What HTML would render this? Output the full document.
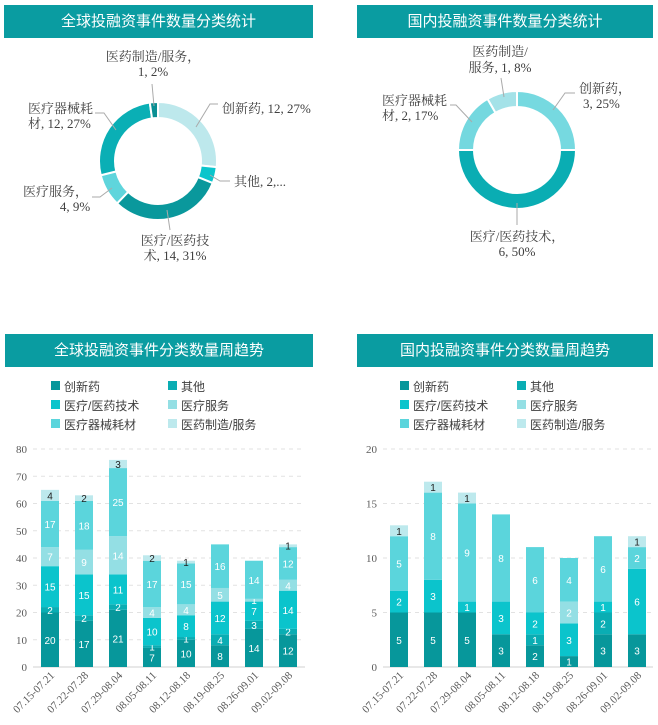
<!DOCTYPE html>
<html><head><meta charset="utf-8">
<style>
body{margin:0;background:#fff;width:658px;height:725px;overflow:hidden;font-family:"Liberation Sans","Noto Sans CJK SC",sans-serif}
.h{position:absolute;background:#0a9ca1;color:#fff;font-size:15px;text-align:center;line-height:33px;height:33px}
svg{position:absolute;left:0;top:0}
</style></head><body>
<div class="h" style="left:4px;top:5px;width:309px">全球投融资事件数量分类统计</div>
<div class="h" style="left:357px;top:5px;width:296px">国内投融资事件数量分类统计</div>
<div class="h" style="left:5px;top:334px;width:308px">全球投融资事件分类数量周趋势</div>
<div class="h" style="left:357px;top:334px;width:296px">国内投融资事件分类数量周趋势</div>
<svg id="s" width="658" height="725" xmlns="http://www.w3.org/2000/svg" font-family="Liberation Sans, Noto Sans CJK SC, sans-serif"></svg>
<script>
var s=document.getElementById('s'),o='';
var SERIF='Liberation Serif, Noto Serif CJK SC, Noto Sans CJK SC, serif';
function arc(cx,cy,r1,r2,a0,a1,c){var p=Math.PI/180;a0=(a0-90)*p;a1=(a1-90)*p;var L=(a1-a0)>Math.PI?1:0;
function pt(r,a){return (cx+r*Math.cos(a)).toFixed(2)+','+(cy+r*Math.sin(a)).toFixed(2)}
o+='<path d="M'+pt(r2,a0)+'A'+r2+','+r2+' 0 '+L+' 1 '+pt(r2,a1)+'L'+pt(r1,a1)+'A'+r1+','+r1+' 0 '+L+' 0 '+pt(r1,a0)+'Z" fill="'+c+'" stroke="#fff" stroke-width="2"/>';}
function donut(cx,cy,d){var t=0,T=0;d.forEach(function(x){T+=x[0]});d.forEach(function(x){var a=t/T*360;t+=x[0];arc(cx,cy,43,59,a,t/T*360,x[1])});}
donut(158,161,[[12,'#bde8ec'],[2,'#0bc5cc'],[14,'#0a989c'],[4,'#5fd5dc'],[12,'#0aafb5'],[1,'#0a8f93']]);
donut(517,150,[[3,'#76d9e0'],[6,'#0aadb3'],[2,'#74d8df'],[1,'#a4e2e8']]);
function t(x,y,s,a,c,fs,ff){o+='<text x="'+x+'" y="'+y+'" font-size="'+(fs||12)+'" fill="'+(c||'#404040')+'" text-anchor="'+(a||'start')+'"'+(ff?' font-family="'+ff+'"':'')+'>'+s+'</text>';}
function d(x,y,s,a){t(x,y,s,a,'#404040',13,SERIF);}
function ln(p){o+='<polyline points="'+p+'" fill="none" stroke="#aaa" stroke-width="1"/>';}
d(153,61,'医药制造/服务，','middle');d(153,76,'1, 2%','middle');ln('152,84 154,106');
d(222,113,'创新药, 12, 27%');ln('218,104 210,104 196,127');
d(234,186,'其他, 2,...');ln('230,181 220,181 210,175');
d(175,245,'医疗/医药技','middle');d(175,260,'术, 14, 31%','middle');ln('170,230 167,210');
d(88,196,'医疗服务，','end');d(75,211,'4, 9%','middle');ln('92,197 100,197 112,188');
d(28,113,'医疗器械耗');d(28,128,'材, 12, 27%');ln('95,113 104,113 116,130');
d(500,56,'医药制造/','middle');d(500,72,'服务, 1, 8%','middle');ln('501,78 504,97');
d(579,93,'创新药，');d(583,108,'3, 25%');ln('575,93 565,93 553,110');
d(382,105,'医疗器械耗');d(382,120,'材, 2, 17%');ln('450,105 456,105 472,122');
d(517,241,'医疗/医药技术，','middle');d(517,256,'6, 50%','middle');ln('517,225 517,203');
var cols=['#07979b','#0aadb3','#0bc4cc','#94dfe4','#5bd5dc','#bde9ed'];
var names=['创新药','其他','医疗/医药技术','医疗服务','医疗器械耗材','医药制造/服务'];
var labs=['07.15-07.21','07.22-07.28','07.29-08.04','08.05-08.11','08.12-08.18','08.19-08.25','08.26-09.01','09.02-09.08'];
function chart(x0,c0,x1,step,max,ystep,data,lx){
 var y0=667,h=218;
 for(var i=0;i<=max;i+=ystep){var y=y0-i/max*h;
  if(i>0)o+='<line x1="'+x0+'" x2="'+x1+'" y1="'+y+'" y2="'+y+'" stroke="#e2e2e2" stroke-dasharray="4,4"/>';
  t(x0-6,y+4,i,'end','#595959',11,SERIF);}
 o+='<line x1="'+x0+'" x2="'+x1+'" y1="'+y0+'" y2="'+y0+'" stroke="#d0d0d0"/>';
 data.forEach(function(d,k){var cx=c0+k*step,acc=0;
  d.forEach(function(v,j){if(!v)return;var yb=y0-acc/max*h;acc+=v;var yt=y0-acc/max*h;
   o+='<rect x="'+(cx-9)+'" y="'+yt+'" width="18" height="'+(yb-yt)+'" fill="'+cols[j]+'"/>';
   t(cx,(yt+yb)/2+4,v,'middle',j==5?'#222':'#fff',10);});
  o+='<text transform="translate('+(cx+5)+',676) rotate(-45)" font-size="11" fill="#595959" text-anchor="end" font-family="'+SERIF+'">'+labs[k]+'</text>';});
 names.forEach(function(n,j){var x=lx+(j%2)*117,y=386+Math.floor(j/2)*19;
  o+='<rect x="'+(x-4)+'" y="'+(y-5)+'" width="9" height="9" fill="'+cols[j]+'"/>';t(x+9,y+5,n,'start','#404040',12);});
}
chart(33,50,305,34,80,10,[[20,2,15,7,17,4],[17,2,15,9,18,2],[21,2,11,14,25,3],[7,1,10,4,17,2],[10,1,8,4,15,1],[8,4,12,5,16,0],[14,3,7,1,14,0],[12,2,14,4,12,1]],55);
chart(383,399,653,34,20,5,[[5,0,2,0,5,1],[5,0,3,0,8,1],[5,0,1,0,9,1],[3,0,3,0,8,0],[2,1,2,0,6,0],[1,0,3,2,4,0],[3,2,1,0,6,0],[3,0,6,0,2,1]],404);
s.innerHTML=o;
</script>
</body></html>
